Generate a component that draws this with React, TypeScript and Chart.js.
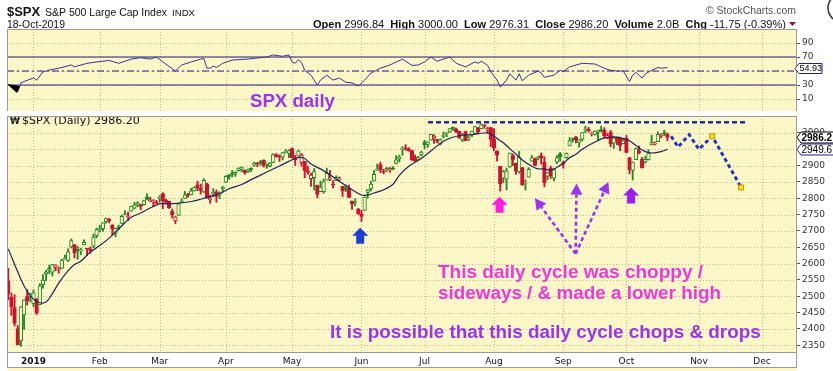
import { useEffect, useRef } from "react";
import { Chart, registerables } from "chart.js";

Chart.register(...registerables);

// ---------------- data (trading-day index 0 = 19-Dec-2018) ----------------
const opens = [
  // Dec 2018
  2547.1, 2496.8, 2465.4, 2400.6, 2363.1, 2442.5, 2498.8, 2498.9,
  // Jan
  2477.0, 2491.9, 2474.3, 2535.6, 2568.1, 2580.0, 2573.5, 2588.1, 2580.3, 2585.1, 2614.8, 2609.3, 2651.3, 2657.9, 2643.5, 2638.8, 2657.4, 2645.0, 2644.9, 2653.6, 2685.5,
  // Feb
  2702.3, 2706.5, 2728.3, 2735.1, 2717.5, 2692.4, 2712.4, 2722.6, 2750.3, 2743.5, 2760.2, 2769.3, 2779.1, 2780.7, 2780.2, 2804.4, 2792.4, 2787.5, 2788.1,
  // Mar
  2798.2, 2814.4, 2794.4, 2790.3, 2760.2, 2730.8, 2747.6, 2787.3, 2799.8, 2810.4, 2810.8, 2822.6, 2840.8, 2831.3, 2819.7, 2844.5, 2796.0, 2812.7, 2819.7, 2809.4, 2828.3,
  // Apr
  2848.6, 2868.2, 2876.1, 2874.0, 2884.2, 2888.5, 2886.6, 2881.4, 2891.9, 2900.9, 2908.3, 2912.3, 2916.0, 2904.8, 2898.8, 2910.0, 2934.0, 2929.0, 2925.8, 2940.6, 2937.1,
  // May
  2952.3, 2922.2, 2929.2, 2908.9, 2913.0, 2879.6, 2859.8, 2863.1, 2840.2, 2820.1, 2820.4, 2855.8, 2858.6, 2841.9, 2854.0, 2856.1, 2836.7, 2832.4, 2830.0, 2790.3, 2786.9, 2766.2,
  // Jun
  2751.5, 2762.6, 2818.1, 2828.5, 2852.9, 2885.8, 2903.3, 2882.7, 2886.2, 2886.8, 2889.8, 2906.7, 2920.6, 2949.6, 2952.7, 2951.4, 2945.8, 2926.1, 2919.7, 2932.9,
  // Jul
  2971.4, 2964.7, 2978.1, 2984.3, 2979.8, 2965.5, 2989.3, 2999.6, 3003.4, 3017.8, 3012.1, 3005.1, 2978.9, 3004.3, 2981.9, 2994.7, 2998.8, 3016.3, 3013.3, 3024.5, 3007.7, 3016.2,
  // Aug
  2980.3, 2943.9, 2898.1, 2861.2, 2858.7, 2896.2, 2930.5, 2907.1, 2880.7, 2894.2, 2846.2, 2864.7, 2913.5, 2919.0, 2922.0, 2930.9, 2911.1, 2866.7, 2893.1, 2861.3, 2910.4, 2937.1,
  // Sep
  2909.0, 2924.7, 2960.6, 2980.3, 2988.4, 2971.0, 2981.4, 3009.1, 3012.2, 2996.4, 2995.7, 3001.5, 3010.4, 3008.4, 2983.5, 3002.4, 2968.4, 2985.7, 2985.5, 2967.1,
  // Oct
  2983.7, 2924.8, 2885.4, 2918.6, 2944.2, 2920.4, 2911.1, 2918.6, 2963.1, 2965.8, 2973.6, 2989.7, 3000.8, 2996.84,
];
const highs = [
  2585.3, 2509.6, 2504.4, 2410.3, 2467.8, 2489.1, 2520.3, 2509.2,
  2519.5, 2493.1, 2538.1, 2566.2, 2579.8, 2595.3, 2597.8, 2596.3, 2589.3, 2613.1, 2625.8, 2645.1, 2675.5, 2657.9, 2653.2, 2647.2, 2672.4, 2645.0, 2650.9, 2690.4, 2709.0,
  2716.7, 2725.0, 2739.0, 2738.1, 2719.3, 2708.1, 2718.1, 2748.2, 2761.9, 2757.9, 2775.7, 2787.3, 2789.9, 2781.6, 2794.2, 2813.5, 2803.1, 2795.8, 2793.7,
  2808.0, 2816.9, 2796.4, 2790.3, 2767.3, 2744.1, 2784.0, 2798.3, 2821.2, 2815.0, 2830.7, 2835.4, 2852.4, 2843.5, 2860.3, 2846.2, 2809.8, 2829.9, 2825.6, 2819.7, 2836.0,
  2869.4, 2872.9, 2885.3, 2881.3, 2893.2, 2896.0, 2886.9, 2889.7, 2893.4, 2910.5, 2909.6, 2916.1, 2918.0, 2908.4, 2909.5, 2936.3, 2936.8, 2933.1, 2939.9, 2949.5, 2948.2,
  2954.1, 2931.7, 2947.9, 2937.3, 2913.0, 2898.0, 2876.0, 2891.3, 2840.2, 2852.5, 2858.7, 2892.2, 2885.5, 2853.9, 2868.9, 2865.5, 2836.7, 2841.4, 2840.5, 2792.0, 2799.0, 2769.0,
  2763.1, 2804.5, 2827.3, 2852.1, 2885.0, 2904.8, 2910.6, 2888.6, 2895.2, 2894.5, 2897.3, 2930.8, 2931.7, 2958.1, 2964.2, 2954.9, 2946.5, 2932.6, 2929.3, 2944.0,
  2977.9, 2973.2, 2995.8, 2994.0, 2980.8, 2981.9, 3003.0, 3002.3, 3013.9, 3017.8, 3015.0, 3005.3, 2998.3, 3006.0, 2990.7, 3005.9, 3019.6, 3016.3, 3028.0, 3025.6, 3017.2, 3017.4,
  3013.6, 2945.5, 2898.1, 2884.4, 2892.2, 2938.7, 2935.8, 2907.6, 2943.3, 2894.2, 2856.7, 2893.6, 2931.0, 2923.6, 2928.7, 2939.1, 2927.0, 2879.3, 2898.8, 2890.0, 2930.5, 2940.4,
  2914.4, 2938.8, 2985.9, 2985.0, 2989.4, 2979.4, 3000.9, 3020.7, 3017.3, 3002.2, 3006.2, 3007.8, 3021.2, 3016.4, 2999.2, 3008.0, 2989.8, 2987.3, 2987.3, 2983.9,
  2992.5, 2924.8, 2911.1, 2953.7, 2959.8, 2925.5, 2929.3, 2948.5, 2993.3, 2972.8, 3003.3, 2997.5, 3008.3, 3000.0,
];
const lows = [
  2489.0, 2441.2, 2408.6, 2351.1, 2346.6, 2397.9, 2472.9, 2482.8,
  2467.5, 2444.0, 2474.3, 2524.6, 2547.6, 2568.9, 2562.0, 2577.4, 2570.4, 2585.1, 2612.7, 2606.4, 2647.6, 2617.3, 2612.9, 2627.0, 2657.3, 2624.1, 2631.1, 2648.3, 2678.7,
  2696.9, 2698.8, 2724.0, 2724.2, 2687.3, 2681.8, 2703.8, 2722.6, 2748.6, 2731.2, 2760.2, 2767.3, 2774.1, 2764.6, 2779.1, 2795.0, 2789.5, 2775.1, 2782.5,
  2787.4, 2767.7, 2783.0, 2768.7, 2739.1, 2722.3, 2747.6, 2786.7, 2799.8, 2803.5, 2810.8, 2822.0, 2823.3, 2812.4, 2817.4, 2800.5, 2785.0, 2804.0, 2787.7, 2798.8, 2819.2,
  2848.6, 2858.8, 2865.2, 2867.1, 2883.0, 2880.8, 2873.3, 2879.1, 2882.0, 2898.4, 2896.5, 2900.7, 2895.5, 2891.9, 2896.4, 2908.5, 2926.1, 2912.8, 2917.6, 2939.4, 2924.1,
  2923.4, 2900.5, 2929.2, 2898.2, 2862.6, 2873.3, 2836.4, 2825.4, 2801.4, 2820.1, 2815.1, 2855.8, 2854.2, 2831.3, 2854.0, 2851.1, 2805.5, 2820.2, 2801.6, 2766.1, 2776.7, 2750.5,
  2728.8, 2762.6, 2800.9, 2822.5, 2852.9, 2885.5, 2878.5, 2874.7, 2882.0, 2879.6, 2887.3, 2905.4, 2911.4, 2931.5, 2946.9, 2944.1, 2916.0, 2913.0, 2918.6, 2929.1,
  2952.2, 2955.9, 2978.0, 2968.0, 2970.1, 2963.4, 2984.6, 2988.8, 3001.9, 3008.8, 3001.2, 2984.3, 2973.1, 2975.9, 2976.7, 2988.6, 2996.8, 2997.2, 3012.6, 3014.3, 3000.9, 2958.1,
  2945.2, 2914.1, 2822.1, 2847.4, 2825.7, 2894.5, 2900.2, 2873.1, 2877.1, 2839.6, 2825.5, 2864.7, 2913.5, 2899.6, 2917.9, 2904.5, 2835.0, 2856.0, 2860.6, 2853.1, 2905.7, 2913.3,
  2891.9, 2921.9, 2960.6, 2972.5, 2969.4, 2957.0, 2975.3, 3000.9, 3002.9, 2990.7, 2993.7, 2978.6, 3003.2, 2984.7, 2982.2, 2957.7, 2952.9, 2963.7, 2945.5, 2967.1,
  2938.7, 2874.9, 2855.9, 2918.6, 2935.7, 2892.7, 2907.4, 2917.1, 2963.1, 2962.9, 2973.6, 2985.2, 2991.8, 2976.31,
];
const closes = [
  2507.0, 2467.4, 2416.6, 2351.1, 2467.7, 2488.8, 2485.7, 2506.9,
  2510.0, 2447.9, 2531.9, 2549.7, 2574.4, 2585.0, 2596.6, 2596.3, 2582.6, 2610.3, 2616.1, 2636.0, 2670.7, 2632.9, 2638.7, 2642.3, 2664.8, 2643.9, 2640.0, 2681.1, 2704.1,
  2706.5, 2724.9, 2737.7, 2731.6, 2706.1, 2707.9, 2709.8, 2744.7, 2753.0, 2745.7, 2775.6, 2779.8, 2784.7, 2774.9, 2792.7, 2796.1, 2793.9, 2792.4, 2784.5,
  2803.7, 2792.8, 2789.7, 2771.5, 2748.9, 2743.1, 2783.3, 2791.5, 2810.9, 2808.5, 2822.5, 2832.9, 2832.6, 2824.2, 2854.9, 2800.7, 2798.4, 2818.5, 2805.4, 2815.4, 2834.4,
  2867.2, 2867.2, 2873.4, 2879.4, 2892.7, 2895.8, 2878.2, 2888.2, 2888.3, 2907.4, 2905.6, 2907.1, 2900.5, 2905.0, 2908.0, 2933.7, 2927.3, 2926.2, 2939.9, 2943.0, 2945.8,
  2923.7, 2917.5, 2945.6, 2932.5, 2884.1, 2879.4, 2870.7, 2881.4, 2811.9, 2834.4, 2851.0, 2876.3, 2859.5, 2840.2, 2864.4, 2856.3, 2822.2, 2826.1, 2802.4, 2783.0, 2788.9, 2752.1,
  2744.5, 2803.3, 2826.2, 2843.5, 2873.3, 2886.7, 2885.7, 2879.8, 2891.6, 2887.0, 2889.7, 2917.8, 2926.5, 2954.2, 2950.5, 2945.4, 2917.4, 2913.8, 2924.9, 2941.8,
  2964.3, 2973.0, 2995.8, 2990.4, 2976.0, 2979.6, 2993.1, 2999.9, 3013.8, 3014.3, 3004.0, 2984.4, 2995.1, 2976.6, 2985.0, 3005.5, 3019.6, 3003.7, 3025.9, 3021.0, 3013.2, 2980.4,
  2953.6, 2932.1, 2844.7, 2881.8, 2884.0, 2938.1, 2918.7, 2882.7, 2926.3, 2840.6, 2847.6, 2888.7, 2923.7, 2900.5, 2924.4, 2923.0, 2847.1, 2878.4, 2869.2, 2887.9, 2924.6, 2926.5,
  2906.3, 2937.8, 2976.0, 2978.7, 2978.4, 2979.4, 3000.9, 3009.6, 3007.4, 2998.0, 3005.7, 3006.7, 3006.8, 2992.1, 2991.8, 2966.6, 2984.9, 2977.6, 2961.8, 2976.7,
  2940.3, 2887.6, 2910.6, 2952.0, 2938.8, 2893.1, 2919.4, 2938.1, 2970.3, 2966.2, 2995.7, 2989.7, 2998.0, 2986.2,
];

const maDays = [0, 4, 6, 8, 10, 12, 14, 16, 19, 21, 23, 26, 29, 32, 35, 39, 42, 45, 48, 51, 54, 58, 61, 64, 67, 70, 74, 77, 80, 83, 86, 89, 92, 94, 96, 99, 102, 105, 108, 112, 114, 116, 119, 122, 124, 127, 131, 134, 138, 141, 144, 147, 151, 153, 155, 157, 159, 161, 163, 166, 168, 170, 172, 174, 176, 178, 180, 182, 185, 187, 189, 191, 193, 195, 197, 199, 201, 203, 205, 207, 209];
const maValues = [2645, 2552, 2515, 2491, 2480, 2482, 2508, 2540, 2578, 2597, 2607, 2635, 2655, 2678, 2706, 2742, 2755, 2770, 2783, 2783, 2785, 2790, 2797, 2805, 2814, 2829, 2842, 2857, 2871, 2885, 2899, 2913, 2925, 2922, 2905, 2890, 2872, 2852, 2833, 2810, 2810, 2816, 2826, 2843, 2870, 2898, 2922, 2945, 2975, 2987, 2993, 2995, 3000, 2997, 2983, 2970, 2952, 2935, 2917, 2898, 2890, 2890, 2886, 2895, 2907, 2924, 2935, 2950, 2967, 2977, 2985, 2987, 2987, 2983, 2976, 2962, 2948, 2940, 2939, 2943, 2949.6];

const rsiDays = [3, 4, 5, 8, 9, 11, 13, 16, 20, 21, 25, 28, 32, 35, 39, 42, 45, 47, 49, 53, 55, 58, 61, 62, 63, 64, 65, 66, 68, 71, 76, 79, 82, 84, 87, 89, 90, 91, 92, 93, 94, 96, 98, 99, 101, 103, 105, 107, 109, 111, 113, 115, 118, 121, 125, 128, 130, 132, 134, 136, 140, 142, 145, 148, 149, 150, 152, 153, 155, 156, 158, 159, 161, 162, 163, 165, 168, 169, 170, 173, 175, 176, 178, 182, 186, 189, 191, 193, 195, 197, 198, 199, 201, 202, 204, 206, 207, 209];
const rsiValues = [20.4, 33, 35, 40, 37, 48.6, 51.4, 54, 58.6, 56, 61, 63, 65, 61, 67, 69, 67, 70, 63, 50, 58.6, 63, 67, 68, 54, 54, 57, 55, 61, 65.7, 67, 68.6, 70, 72.9, 71, 73, 63, 61, 66, 62, 51, 44, 30, 37, 44, 37, 40, 34, 33, 28.6, 37, 47, 54, 58.6, 67, 58, 58.6, 63, 70, 64, 70, 61, 56, 63, 61, 64, 58, 49, 37, 27, 37, 46, 37, 46, 36, 44, 50, 47, 41, 44, 51, 49, 56, 61, 60, 54, 51, 50, 50, 35, 44, 48, 40, 46, 51, 55, 54, 54.93];

const monthTickDays = [8, 29, 48, 69, 90, 112, 132, 154, 176, 196, 219, 239];
const monthTickLabels = ["2019", "Feb", "Mar", "Apr", "May", "Jun", "Jul", "Aug", "Sep", "Oct", "Nov", "Dec"];
const priceTicks = [2350, 2400, 2450, 2500, 2550, 2600, 2650, 2700, 2750, 2800, 2850, 2900, 2950, 3000];
const rsiTicks = [10, 30, 50, 70, 90];
const rsiLevels = [30, 50, 70];

const resistanceDays = [133.1, 233.9];
const resistanceValues = [3033, 3033];
const projectionDays = [210.2, 212.4, 215.9, 219.0, 223.2, 232.4];
const projectionValues = [2990, 2957, 2995, 2950, 2990, 2833];
const blockArrowDays = [111.6, 155.8, 197.5];
const blockArrowValues = [2710, 2805, 2833];
const cycleArrowOriginDay = 179.9;
const cycleArrowOriginValue = 2630;
const cycleArrowDays = [167.0, 180.2, 190.3];
const cycleArrowValues = [2800, 2845, 2850];

// ---------------- styling ----------------
const X_MIN = -0.4;
const X_MAX = 250.1;
const BG = "#fbf7c6";
const GRID = "rgba(150,140,95,0.55)";
const UP = "#1f8a24";
const DOWN = "#d01030";
const SANS = "'Liberation Sans', Arial, sans-serif";
const DJ = "'DejaVu Sans', sans-serif";
const ARROW_COLORS = ["#1a40d8", "#ff1ee0", "#9a1ff0"];
const VIOLET = "#9b33f0";
const MAGENTA = "#f236dc";

function fitText(ctx: CanvasRenderingContext2D, text: string, x: number, y: number, width: number, weight: string, family: string, color: string) {
  ctx.font = `${weight} 20px ${family}`;
  const w = ctx.measureText(text).width;
  const size = (20 * width) / w;
  ctx.font = `${weight} ${size.toFixed(2)}px ${family}`;
  ctx.fillStyle = color;
  ctx.textAlign = "left";
  ctx.textBaseline = "alphabetic";
  ctx.fillText(text, x, y);
}

function drawSegments(ctx: CanvasRenderingContext2D, segs: [string, boolean][], x: number, y: number, width: number) {
  const base = 11;
  let total = 0;
  for (const [t, b] of segs) {
    ctx.font = `${b ? "bold " : ""}${base}px ${SANS}`;
    total += ctx.measureText(t).width;
  }
  const size = (base * width) / total;
  let cx = x;
  ctx.fillStyle = "#111";
  ctx.textAlign = "left";
  ctx.textBaseline = "alphabetic";
  for (const [t, b] of segs) {
    ctx.font = `${b ? "bold " : ""}${size.toFixed(2)}px ${SANS}`;
    ctx.fillText(t, cx, y);
    cx += ctx.measureText(t).width;
  }
}

function drawGrid(chart: any, yTicks: number[]) {
  const { ctx, chartArea: a, scales } = chart;
  ctx.save();
  ctx.strokeStyle = GRID;
  ctx.lineWidth = 1;
  ctx.setLineDash([1, 2]);
  ctx.beginPath();
  for (const d of monthTickDays) {
    const x = Math.round(scales.x.getPixelForValue(d)) + 0.5;
    if (x < a.left || x > a.right) continue;
    ctx.moveTo(x, a.top);
    ctx.lineTo(x, a.bottom);
  }
  for (const v of yTicks) {
    const y = Math.round(scales.y.getPixelForValue(v)) + 0.5;
    ctx.moveTo(a.left, y);
    ctx.lineTo(a.right, y);
  }
  ctx.stroke();
  ctx.restore();
}

function valueBox(ctx: CanvasRenderingContext2D, x0: number, yc: number, x1: number, h: number, text: string, bold: boolean, border: string, size: number) {
  const y = Math.round(yc) + 0.5;
  ctx.save();
  ctx.beginPath();
  ctx.moveTo(x0, y);
  ctx.lineTo(x0 + 4, y - h / 2);
  ctx.lineTo(x1, y - h / 2);
  ctx.lineTo(x1, y + h / 2);
  ctx.lineTo(x0 + 4, y + h / 2);
  ctx.closePath();
  ctx.fillStyle = "#ffffff";
  ctx.fill();
  ctx.strokeStyle = border;
  ctx.lineWidth = 1;
  ctx.stroke();
  ctx.font = `${bold ? "bold " : ""}${size}px ${SANS}`;
  ctx.fillStyle = "#000";
  ctx.textAlign = "left";
  ctx.textBaseline = "middle";
  ctx.fillText(text, x0 + 4.5, y + 0.5);
  ctx.restore();
}

function blockArrow(ctx: CanvasRenderingContext2D, cx: number, tipY: number, color: string) {
  ctx.beginPath();
  ctx.moveTo(cx, tipY);
  ctx.lineTo(cx + 8, tipY + 8);
  ctx.lineTo(cx + 4, tipY + 8);
  ctx.lineTo(cx + 4, tipY + 16);
  ctx.lineTo(cx - 4, tipY + 16);
  ctx.lineTo(cx - 4, tipY + 8);
  ctx.lineTo(cx - 8, tipY + 8);
  ctx.closePath();
  ctx.fillStyle = color;
  ctx.fill();
}

function dashedArrow(ctx: CanvasRenderingContext2D, x0: number, y0: number, x1: number, y1: number, color: string) {
  const ang = Math.atan2(y1 - y0, x1 - x0);
  const hl = 11;
  const hw = 6;
  const bx = x1 - hl * Math.cos(ang);
  const by = y1 - hl * Math.sin(ang);
  ctx.save();
  ctx.strokeStyle = color;
  ctx.lineWidth = 2.6;
  ctx.setLineDash([4, 3]);
  ctx.beginPath();
  ctx.moveTo(x0, y0);
  ctx.lineTo(bx, by);
  ctx.stroke();
  ctx.setLineDash([]);
  ctx.beginPath();
  ctx.moveTo(x1, y1);
  ctx.lineTo(bx + hw * Math.sin(ang), by - hw * Math.cos(ang));
  ctx.lineTo(bx - hw * Math.sin(ang), by + hw * Math.cos(ang));
  ctx.closePath();
  ctx.fillStyle = color;
  ctx.fill();
  ctx.restore();
}

const rsiPlugin = {
  id: "rsiDeco",
  beforeDraw(chart: any) {
    const { ctx, chartArea: a } = chart;
    ctx.save();
    ctx.fillStyle = "#ffffff";
    ctx.fillRect(0, 0, chart.width, chart.height);
    ctx.fillStyle = BG;
    ctx.fillRect(a.left, a.top, a.right - a.left, a.bottom - a.top);
    ctx.restore();
  },
  beforeDatasetsDraw(chart: any) {
    drawGrid(chart, rsiTicks);
  },
  afterDraw(chart: any) {
    const { ctx, chartArea: a, scales } = chart;
    ctx.save();
    // header
    fitText(ctx, "$SPX", 7, 15.5, 33, "bold", SANS, "#111");
    fitText(ctx, "S&P 500 Large Cap Index", 45, 15.5, 122, "normal", SANS, "#111");
    fitText(ctx, "INDX", 172, 15.5, 23, "normal", SANS, "#111");
    fitText(ctx, "18-Oct-2019", 7, 27.5, 58, "normal", SANS, "#111");
    fitText(ctx, "\u00A9 StockCharts.com", 706, 14, 90, "normal", SANS, "#555");
    drawSegments(ctx, [
      ["Open", true], [" 2996.84  ", false],
      ["High", true], [" 3000.00  ", false],
      ["Low", true], [" 2976.31  ", false],
      ["Close", true], [" 2986.20  ", false],
      ["Volume", true], [" 2.0B  ", false],
      ["Chg", true], [" -11.75 (-0.39%)", false],
    ], 313, 27.5, 473);
    ctx.beginPath();
    ctx.moveTo(789, 22);
    ctx.lineTo(796, 22);
    ctx.lineTo(792.5, 26);
    ctx.closePath();
    ctx.fillStyle = "#8b1535";
    ctx.fill();
    // logo edge
    ctx.beginPath();
    ctx.arc(842, 8, 14, Math.PI * 0.55, Math.PI * 1.45);
    ctx.strokeStyle = "#333";
    ctx.lineWidth = 1.5;
    ctx.stroke();
    // annotation
    fitText(ctx, "SPX daily", 250, 107, 85, "bold", SANS, VIOLET);
    // marker triangle
    ctx.beginPath();
    ctx.moveTo(7, 84);
    ctx.lineTo(20, 86);
    ctx.lineTo(17, 93);
    ctx.closePath();
    ctx.fillStyle = "#000";
    ctx.fill();
    // frame
    ctx.strokeStyle = "#9a9a9a";
    ctx.lineWidth = 1;
    ctx.strokeRect(a.left + 0.5, a.top + 0.5, a.right - a.left - 1, a.bottom - a.top);
    // value box
    const last = rsiValues[rsiValues.length - 1];
    valueBox(ctx, 795, scales.y.getPixelForValue(last), 822, 10, last.toFixed(2), false, "#2a237a", 9);
    ctx.restore();
  },
};

const mainPlugin = {
  id: "mainDeco",
  beforeDraw(chart: any) {
    const { ctx, chartArea: a } = chart;
    ctx.save();
    ctx.fillStyle = "#ffffff";
    ctx.fillRect(0, 0, chart.width, chart.height);
    ctx.fillStyle = BG;
    ctx.fillRect(a.left, a.top, a.right - a.left, a.bottom - a.top);
    ctx.fillRect(a.left, 257, a.right - a.left, chart.height - 257);
    ctx.restore();
  },
  beforeDatasetsDraw(chart: any) {
    drawGrid(chart, priceTicks);
  },
  afterDatasetsDraw(chart: any) {
    const { ctx, scales } = chart;
    const xs = scales.x;
    const ys = scales.y;
    ctx.save();
    blockArrowDays.forEach((d, i) => {
      blockArrow(ctx, xs.getPixelForValue(d), ys.getPixelForValue(blockArrowValues[i]), ARROW_COLORS[i]);
    });
    const ox = xs.getPixelForValue(cycleArrowOriginDay);
    const oy = ys.getPixelForValue(cycleArrowOriginValue);
    cycleArrowDays.forEach((d, i) => {
      dashedArrow(ctx, ox, oy, xs.getPixelForValue(d), ys.getPixelForValue(cycleArrowValues[i]), VIOLET);
    });
    fitText(ctx, "This daily cycle was choppy /", 438, 167, 265, "bold", SANS, MAGENTA);
    fitText(ctx, "sideways / & made a lower high", 438, 187.5, 283, "bold", SANS, MAGENTA);
    fitText(ctx, "It is possible that this daily cycle chops & drops", 330, 226.5, 431, "bold", SANS, VIOLET);
    ctx.restore();
  },
  afterDraw(chart: any) {
    const { ctx, chartArea: a, scales } = chart;
    ctx.save();
    // panel label
    ctx.font = `bold 9px ${DJ}`;
    ctx.fillStyle = "#222";
    ctx.textBaseline = "alphabetic";
    ctx.textAlign = "left";
    ctx.fillText("\u20A9", 10, 13);
    fitText(ctx, `$SPX (Daily) ${closes[closes.length - 1].toFixed(2)}`, 22, 13, 118, "normal", DJ, "#111");
    // frames
    ctx.strokeStyle = "#9a9a9a";
    ctx.lineWidth = 1;
    ctx.strokeRect(a.left + 0.5, a.top + 0.5, a.right - a.left - 1, a.bottom - a.top - 1);
    ctx.beginPath();
    ctx.moveTo(a.left, 256.5);
    ctx.lineTo(a.right, 256.5);
    ctx.moveTo(a.left + 0.5, a.bottom);
    ctx.lineTo(a.left + 0.5, 257);
    ctx.moveTo(a.right - 0.5, a.bottom);
    ctx.lineTo(a.right - 0.5, 257);
    ctx.stroke();
    // value boxes
    const lastClose = closes[closes.length - 1];
    const lastMa = maValues[maValues.length - 1];
    valueBox(ctx, 797, scales.y.getPixelForValue(lastClose), 834, 11, lastClose.toFixed(1), true, "#000", 10);
    valueBox(ctx, 797, scales.y.getPixelForValue(lastMa), 834, 11, lastMa.toFixed(1), false, "#2a237a", 10);
    ctx.restore();
  },
};

const isDown = (i: number) => closes[i] < (i > 0 ? closes[i - 1] : opens[i]);
const candleColor = (i: number) => (isDown(i) ? DOWN : UP);

export default function App() {
  const rsiRef = useRef<HTMLCanvasElement>(null);
  const mainRef = useRef<HTMLCanvasElement>(null);

  useEffect(() => {
    document.body.style.margin = "0";
    Chart.defaults.font.family = DJ;

    const yAfterFit = (s: any) => {
      s.width = 36;
      s.paddingTop = 0;
      s.paddingBottom = 0;
    };

    const rsiChart = new Chart(rsiRef.current as HTMLCanvasElement, {
      type: "line",
      data: {
        datasets: [
          {
            data: rsiDays.map((d, i) => ({ x: d, y: rsiValues[i] })),
            borderColor: "#3a3399",
            borderWidth: 1,
            pointRadius: 0,
            tension: 0,
          } as any,
          ...rsiLevels.map((lv) => ({
            data: [{ x: X_MIN, y: lv }, { x: X_MAX, y: lv }],
            borderColor: "#2b1f80",
            borderWidth: 1,
            pointRadius: 0,
            borderDash: lv === 50 ? [7, 3, 2, 3] : [],
          })),
        ],
      },
      options: {
        responsive: false,
        animation: false,
        devicePixelRatio: 1,
        events: [],
        layout: { padding: { top: 29, left: 7, right: 0, bottom: 0 } },
        plugins: { legend: { display: false }, tooltip: { enabled: false } },
        scales: {
          x: { type: "linear", display: false, min: X_MIN, max: X_MAX, offset: false },
          y: {
            type: "linear",
            position: "right",
            min: -7.1,
            max: 110,
            afterBuildTicks: (s: any) => {
              s.ticks = rsiTicks.map((v) => ({ value: v }));
            },
            afterFit: yAfterFit,
            grid: { display: true, drawOnChartArea: false, drawTicks: true, tickLength: 3, color: "#555" },
            border: { display: false },
            ticks: { font: { family: DJ, size: 9 }, color: "#333", padding: 2, callback: (v: any) => String(v) },
          },
        },
      } as any,
      plugins: [rsiPlugin],
    });

    const mainChart = new Chart(mainRef.current as HTMLCanvasElement, {
      type: "bar",
      data: {
        datasets: [
          {
            type: "line",
            data: maDays.map((d, i) => ({ x: d, y: maValues[i] })),
            borderColor: "#23235e",
            borderWidth: 1.2,
            pointRadius: 0,
            tension: 0.35,
            order: 0,
          },
          {
            type: "line",
            data: resistanceDays.map((d, i) => ({ x: d, y: resistanceValues[i] })),
            borderColor: "#1f2fa8",
            borderWidth: 2.5,
            borderDash: [5, 3],
            pointRadius: 0,
            order: 0,
          },
          {
            type: "line",
            data: projectionDays.map((d, i) => ({ x: d, y: projectionValues[i] })),
            borderColor: "#2236c0",
            borderWidth: 3,
            borderDash: [4, 3],
            tension: 0,
            pointStyle: "rect",
            pointRadius: (c: any) => (c.dataIndex >= 4 ? 3.5 : 0),
            pointBackgroundColor: "#ffe600",
            pointBorderColor: "#c89000",
            pointBorderWidth: 1,
            order: 0,
          },
          {
            type: "bar",
            data: closes.map((c, i) => ({ x: i, y: [opens[i], c] })),
            barThickness: 3.6,
            minBarLength: 1,
            grouped: false,
            borderSkipped: false,
            borderWidth: 1,
            borderColor: (c: any) => candleColor(c.dataIndex),
            backgroundColor: (c: any) => (closes[c.dataIndex] < opens[c.dataIndex] ? candleColor(c.dataIndex) : BG),
            order: 1,
          },
          {
            type: "bar",
            data: closes.map((c, i) => ({ x: i, y: [lows[i], highs[i]] })),
            barThickness: 1.2,
            grouped: false,
            borderWidth: 0,
            backgroundColor: (c: any) => candleColor(c.dataIndex),
            order: 2,
          },
        ] as any,
      },
      options: {
        responsive: false,
        animation: false,
        devicePixelRatio: 1,
        events: [],
        layout: { padding: { top: 0, left: 7, right: 0, bottom: 0 } },
        plugins: { legend: { display: false }, tooltip: { enabled: false } },
        scales: {
          x: {
            type: "linear",
            min: X_MIN,
            max: X_MAX,
            offset: false,
            afterBuildTicks: (s: any) => {
              s.ticks = monthTickDays.map((v) => ({ value: v }));
            },
            afterFit: (s: any) => {
              s.height = 18;
              s.paddingLeft = 0;
              s.paddingRight = 0;
            },
            grid: { display: false, drawTicks: false },
            border: { display: false },
            ticks: {
              autoSkip: false,
              maxRotation: 0,
              minRotation: 0,
              padding: 3,
              color: "#111",
              font: (c: any) => ({ family: DJ, size: 9, weight: c.tick && c.tick.value === monthTickDays[0] ? "bold" : "normal" }),
              callback: (v: any) => {
                const k = monthTickDays.indexOf(v);
                return k >= 0 ? monthTickLabels[k] : "";
              },
            },
          },
          y: {
            type: "linear",
            position: "right",
            min: 2326,
            max: 3052,
            beginAtZero: false,
            afterBuildTicks: (s: any) => {
              s.ticks = priceTicks.map((v) => ({ value: v }));
            },
            afterFit: yAfterFit,
            grid: { display: true, drawOnChartArea: false, drawTicks: true, tickLength: 3, color: "#555" },
            border: { display: false },
            ticks: { font: { family: DJ, size: 9 }, color: "#333", padding: 2, callback: (v: any) => String(v) },
          },
        },
      } as any,
      plugins: [mainPlugin],
    });

    return () => {
      rsiChart.destroy();
      mainChart.destroy();
    };
  }, []);

  return (
    <div style={{ position: "absolute", left: 0, top: 0, width: 833, height: 371, background: "#fff" }}>
      <canvas ref={rsiRef} width={833} height={111} style={{ display: "block" }} />
      <canvas ref={mainRef} width={833} height={260} style={{ display: "block" }} />
    </div>
  );
}
